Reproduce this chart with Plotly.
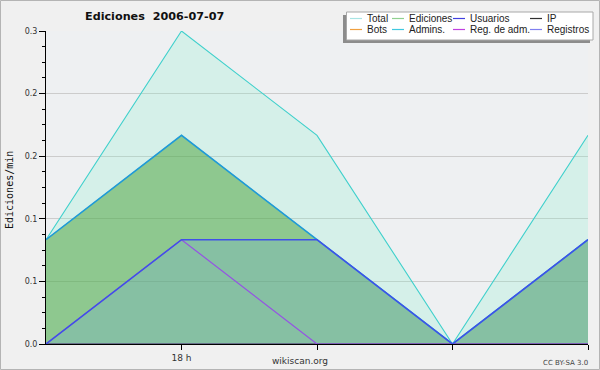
import plotly.graph_objects as go

# ---- data ----
hours = [17, 18, 19, 20, 21]
total = [0.1, 0.3, 0.2, 0.0, 0.2]
ediciones = [0.1, 0.2, 0.1, 0.0, 0.1]
admins = [0.1, 0.2, 0.1, 0.0, 0.1]
usuarios = [0.0, 0.1, 0.1, 0.0, 0.1]
reg_adm = [0.0, 0.1, 0.0, 0.0, 0.0]
ip = [0.0, 0.0, 0.0, 0.0, 0.0]
bots = [0.0, 0.0, 0.0, 0.0, 0.0]
registros = [0.0, 0.0, 0.0, 0.0, 0.0]

x_tickvals = [18, 19, 20, 21]
x_ticktext = ["18 h", "", "", ""]
y_tickvals = [0.0, 0.06, 0.12, 0.18, 0.24, 0.3]
y_ticktext = ["0.0", "0.1", "0.1", "0.2", "0.2", "0.3"]

legend_names = [["Total", "Ediciones", "Usuarios", "IP"],
                ["Bots", "Admins.", "Reg. de adm.", "Registros"]]
legend_colors = [["#a8e4e4", "#90d090", "#4040e0", "#303030"],
                 ["#f0a040", "#40c8e0", "#c040e0", "#8080f0"]]

title_text = "Ediciones  2006-07-07"
ytitle = "Ediciones/min"

# ---- geometry helpers (pixel -> paper) ----
W, H = 600, 370
L, R, T, B = 46, 588, 31, 344
def px(x):
    return (x - L) / (R - L)
def py(y):
    return (B - y) / (B - T)

fig = go.Figure()

fig.add_trace(go.Scatter(x=hours, y=total, mode="lines", fill="tozeroy",
                         fillcolor="rgba(128,240,202,0.22)",
                         line=dict(color="#3fd0cc", width=1.1), name="Total"))
fig.add_trace(go.Scatter(x=hours, y=ediciones, mode="lines", fill="tozeroy",
                         fillcolor="rgba(72,160,54,0.5)",
                         line=dict(color="#90d090", width=1), name="Ediciones"))
fig.add_trace(go.Scatter(x=hours, y=admins, mode="lines",
                         line=dict(color="#1f9ad8", width=1.6), name="Admins."))
fig.add_trace(go.Scatter(x=hours, y=bots, mode="lines",
                         line=dict(color="#f0a040", width=1), name="Bots"))
fig.add_trace(go.Scatter(x=hours, y=registros, mode="lines",
                         line=dict(color="#8080f0", width=1), name="Registros"))
fig.add_trace(go.Scatter(x=hours, y=ip, mode="lines",
                         line=dict(color="#303030", width=1), name="IP"))
fig.add_trace(go.Scatter(x=hours, y=reg_adm, mode="lines",
                         line=dict(color="#a040e0", width=1.2), name="Reg. de adm."))
fig.add_trace(go.Scatter(x=hours, y=usuarios, mode="lines", fill="tozeroy",
                         fillcolor="rgba(104,160,244,0.2)",
                         line=dict(color="#4050e8", width=1.5), name="Usuarios"))

for tr in fig.data:
    tr.showlegend = False
    tr.hoverinfo = "skip"

shapes = []
annotations = []

# outer frame
shapes.append(dict(type="rect", xref="paper", yref="paper",
                   x0=px(0.5), x1=px(599.5), y0=py(0.5), y1=py(369.5),
                   line=dict(color="#b4b4b4", width=1), fillcolor="rgba(0,0,0,0)",
                   layer="below"))

# legend box with shadow
shapes.append(dict(type="rect", xref="paper", yref="paper",
                   x0=px(343), x1=px(590), y0=py(15), y1=py(43),
                   line=dict(width=0), fillcolor="#8c8c8c"))
shapes.append(dict(type="rect", xref="paper", yref="paper",
                   x0=px(346.5), x1=px(593), y0=py(12), y1=py(40),
                   line=dict(color="#a8a8a8", width=1), fillcolor="#ffffff"))

col_x = [350, 392, 453, 530]
row_y = [18.5, 29.5]
for r in range(2):
    for c in range(4):
        x0 = col_x[c]
        shapes.append(dict(type="line", xref="paper", yref="paper",
                           x0=px(x0), x1=px(x0 + 12), y0=py(row_y[r]), y1=py(row_y[r]),
                           line=dict(color=legend_colors[r][c], width=1.2)))
        annotations.append(dict(xref="paper", yref="paper", x=px(x0 + 15), y=py(row_y[r]),
                                text=legend_names[r][c], showarrow=False,
                                xanchor="left", yanchor="middle",
                                font=dict(family="Liberation Sans", size=10, color="#222222")))

# title
annotations.append(dict(xref="paper", yref="paper", x=px(154), y=py(16.5),
                        text="<b>" + title_text + "</b>", showarrow=False,
                        xanchor="center", yanchor="middle",
                        font=dict(family="DejaVu Sans", size=11.2, color="#111111")))
# y title
annotations.append(dict(xref="paper", yref="paper", x=px(9), y=py(190),
                        text=ytitle, showarrow=False, textangle=-90,
                        xanchor="center", yanchor="middle",
                        font=dict(family="DejaVu Sans Mono", size=10, color="#111111")))
# footer texts
annotations.append(dict(xref="paper", yref="paper", x=px(300), y=py(361),
                        text="wikiscan.org", showarrow=False,
                        xanchor="center", yanchor="middle",
                        font=dict(family="DejaVu Sans", size=9, color="#333333")))
annotations.append(dict(xref="paper", yref="paper", x=px(590), y=py(362.5),
                        text="CC BY-SA 3.0", showarrow=False,
                        xanchor="right", yanchor="middle",
                        font=dict(family="DejaVu Sans", size=7, color="#444444")))

fig.update_layout(
    width=W, height=H, autosize=False,
    margin=dict(l=L, r=W - R, t=T, b=H - B, pad=0),
    paper_bgcolor="#f0f0f0",
    plot_bgcolor="#eef0f2",
    showlegend=False,
    hovermode=False,
    shapes=shapes,
    annotations=annotations,
    xaxis=dict(range=[17, 21], tickmode="array", tickvals=x_tickvals, ticktext=x_ticktext,
               automargin=False,
               showgrid=False, zeroline=False, showline=True, linecolor="#000000", linewidth=1,
               ticks="outside", ticklen=5, tickcolor="#000000", tickwidth=1,
               tickfont=dict(family="DejaVu Sans", size=9, color="#333333")),
    yaxis=dict(range=[0, 0.3], tickmode="array", tickvals=y_tickvals, ticktext=y_ticktext,
               automargin=False,
               showgrid=True, gridcolor="#cccccc", gridwidth=1, zeroline=False,
               showline=True, linecolor="#000000", linewidth=1,
               ticks="outside", ticklen=6, tickcolor="#000000", tickwidth=1,
               minor=dict(ticks="outside", ticklen=3, tickcolor="#000000", dtick=0.015,
                          tick0=0, showgrid=False),
               tickfont=dict(family="DejaVu Sans", size=8, color="#333333")),
)

fig.write_html("out.html",
               config={"displayModeBar": False, "responsive": False},
               post_script="document.body.style.margin='0';document.body.style.overflow='hidden';")
